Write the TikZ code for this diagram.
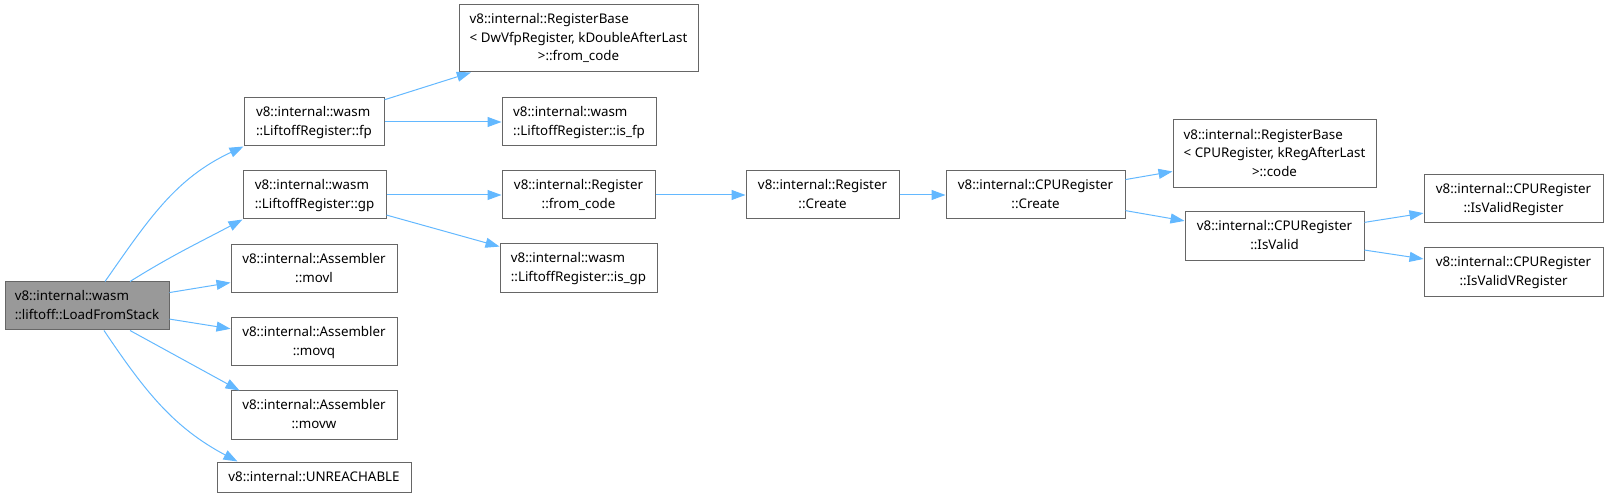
\documentclass[tikz,border=0pt]{standalone}
\usepackage{fontspec}
\setmainfont{Noto Sans}
\usetikzlibrary{arrows.meta,calc}
\definecolor{edgeblue}{HTML}{63B8FF}
\definecolor{boxgray}{HTML}{666666}
\definecolor{rootfill}{HTML}{999999}
% lines left-aligned, last line centred
\newcommand{\dlabel}[2]{\begin{tabular}{@{}l@{}}#1\\\multicolumn{1}{@{}c@{}}{#2}\end{tabular}}

\begin{document}
\begin{tikzpicture}[x=0.75pt,y=0.75pt,
  fn/.style 2 args={draw=boxgray,line width=0.75pt,fill=white,inner sep=0pt,
    minimum width=#1*0.75pt,minimum height=#2*0.75pt,
    font=\fontsize{10pt}{14pt}\selectfont},
  call/.style={draw=edgeblue,line width=0.75pt,-{Triangle[length=10.5pt,width=7.5pt]}}]
  \useasboundingbox (0,0) rectangle (1608,-498);
  % caller
  \node[fn={164}{48},fill=rootfill] (root) at (87,-306) {\dlabel{v8::internal::wasm}{::liftoff::LoadFromStack}};
  % first column
  \node[fn={140}{48}] (fp) at (314,-122) {\dlabel{v8::internal::wasm}{::LiftoffRegister::fp}};
  \node[fn={143}{48}] (gp) at (314.5,-195) {\dlabel{v8::internal::wasm}{::LiftoffRegister::gp}};
  \node[fn={166}{48}] (movl) at (314,-269) {\dlabel{v8::internal::Assembler}{::movl}};
  \node[fn={166}{48}] (movq) at (314,-342) {\dlabel{v8::internal::Assembler}{::movq}};
  \node[fn={166}{48}] (movw) at (314,-415) {\dlabel{v8::internal::Assembler}{::movw}};
  \node[fn={194}{30}] (unreach) at (314,-477) {v8::internal::UNREACHABLE};
  % second column
  \node[fn={239}{67}] (fromcode) at (578.5,-38.5) {\dlabel{v8::internal::RegisterBase\\< DwVfpRegister, kDoubleAfterLast}{>::from\_code}};
  \node[fn={154}{48}] (isfp) at (579,-122) {\dlabel{v8::internal::wasm}{::LiftoffRegister::is\_fp}};
  \node[fn={153}{48}] (regfrom) at (578.5,-195) {\dlabel{v8::internal::Register}{::from\_code}};
  \node[fn={157}{49}] (isgp) at (578.5,-268.5) {\dlabel{v8::internal::wasm}{::LiftoffRegister::is\_gp}};
  % Register::Create chain
  \node[fn={153}{48}] (regcreate) at (822.5,-195) {\dlabel{v8::internal::Register}{::Create}};
  \node[fn={179}{48}] (cpucreate) at (1035.5,-195) {\dlabel{v8::internal::CPURegister}{::Create}};
  \node[fn={203}{68}] (regcode) at (1274.5,-154) {\dlabel{v8::internal::RegisterBase\\< CPURegister, kRegAfterLast}{>::code}};
  \node[fn={179}{49}] (isvalid) at (1274.5,-236.5) {\dlabel{v8::internal::CPURegister}{::IsValid}};
  \node[fn={179}{48}] (isvalidreg) at (1513.5,-199) {\dlabel{v8::internal::CPURegister}{::IsValidRegister}};
  \node[fn={179}{49}] (isvalidvreg) at (1513.5,-272.5) {\dlabel{v8::internal::CPURegister}{::IsValidVRegister}};
  % calls from the caller
  \draw[call] ($(root.north)+(18,0)$) to[out=55,in=205] (fp.south west);
  \draw[call] ($(root.north)+(43,0)$) to[out=32,in=208] (gp.south west);
  \draw[call] (root) -- (movl);
  \draw[call] (root) -- (movq);
  \draw[call] ($(root.south)+(43,0)$) -- ($(movw.north west)+(9,0)$);
  \draw[call] ($(root.south)+(17,0)$) to[out=-56,in=152] ($(unreach.north west)+(21,0)$);
  % remaining calls
  \draw[call] (fp) -- (fromcode);
  \draw[call] (fp) -- (isfp);
  \draw[call] (gp) -- (regfrom);
  \draw[call] (gp) -- (isgp);
  \draw[call] (regfrom) -- (regcreate);
  \draw[call] (regcreate) -- (cpucreate);
  \draw[call] (cpucreate) -- (regcode);
  \draw[call] (cpucreate) -- (isvalid);
  \draw[call] (isvalid) -- (isvalidreg);
  \draw[call] (isvalid) -- (isvalidvreg);
\end{tikzpicture}
\end{document}
